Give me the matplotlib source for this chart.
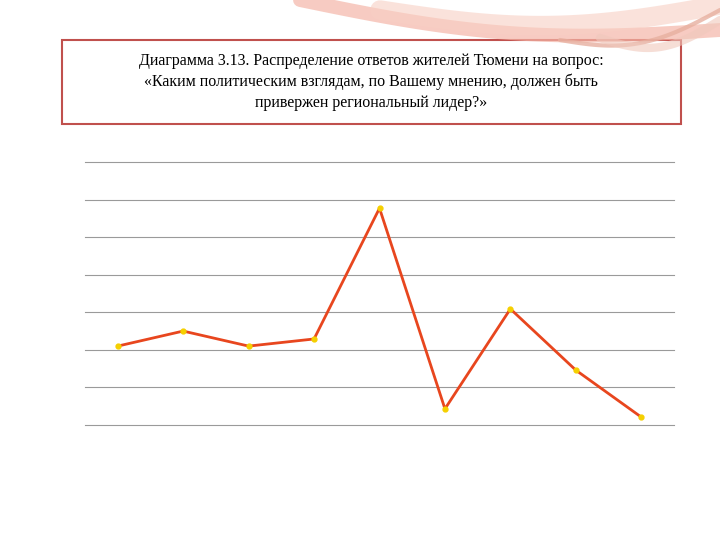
import matplotlib
matplotlib.use("Agg")
import matplotlib.pyplot as plt
from matplotlib.patches import Rectangle
import numpy as np

categories = list(range(9))
values = [2.1, 2.5, 2.1, 2.29, 5.77, 0.43, 3.09, 1.46, 0.21]
title = ("Диаграмма 3.13. Распределение ответов жителей Тюмени на вопрос:\n"
         "«Каким политическим взглядам, по Вашему мнению, должен быть\n"
         "привержен региональный лидер?»")

fig = plt.figure(figsize=(7.2, 5.4), dpi=100)

deco = fig.add_axes([0, 0, 1, 1], zorder=0)
deco.set_xlim(0, 720); deco.set_ylim(540, 0); deco.axis("off")
t = np.linspace(0, 1, 100)
for (x0, y0, x1, y1, c, lw, a) in [(300, 0, 720, 30, "#f4b6a8", 10, 0.7),
                                   (380, 10, 720, 5, "#f8d0c4", 14, 0.6),
                                   (560, 40, 720, 10, "#e7b0a0", 3, 0.8),
                                   (600, 38, 720, 20, "#f0c8bc", 6, 0.6)]:
    xs = x0 + (x1 - x0) * t
    ys = y0 + (y1 - y0) * t + 18 * np.sin(np.pi * t)
    deco.plot(xs, ys, color=c, lw=lw, alpha=a, solid_capstyle="round")
deco.add_patch(Rectangle((62, 40), 619, 84, facecolor="white", edgecolor="#c0504d", lw=1.5))
deco.text(371, 82, title, ha="center", va="center", fontsize=11.5,
          family=["Liberation Serif", "DejaVu Serif"], linespacing=1.35)

ax = fig.add_axes([85/720, 1-425/540, 589/720, 263/540], zorder=1)
ax.patch.set_alpha(0)
ax.set_xlim(-0.5, 8.5)
ax.set_ylim(0, 7)
for y in range(8):
    ax.axhline(y, color="#9a9a9a", lw=0.8, zorder=1, clip_on=False)
ax.plot(categories, values, color="#e8461e", lw=2.0, marker="o", markersize=3.5,
        markerfacecolor="#f5d000", markeredgecolor="#f5d000", zorder=3)
for s in ax.spines.values():
    s.set_visible(False)
ax.set_xticks([]); ax.set_yticks([])

fig.savefig("out.png", dpi=100)
